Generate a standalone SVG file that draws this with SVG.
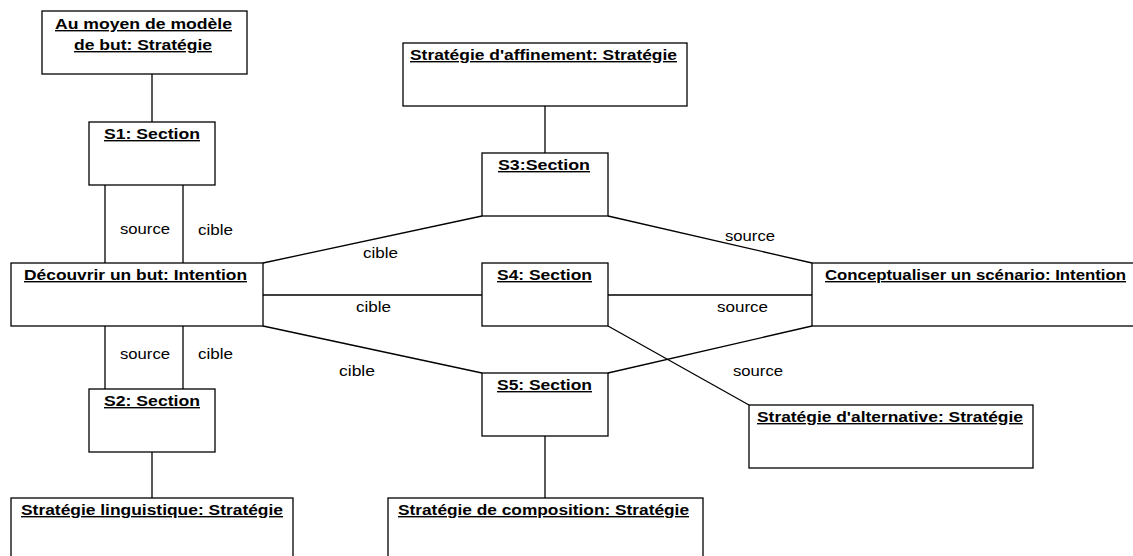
<svg xmlns="http://www.w3.org/2000/svg" width="1133" height="556" viewBox="0 0 1133 556">
<style>
.box{fill:#fff;stroke:#000;stroke-width:1.3}
.ln{stroke:#000;stroke-width:1.3;fill:none}
.t{font-family:"Liberation Sans",Arial,sans-serif;font-size:14px;font-weight:bold;text-decoration:underline;fill:#000;text-anchor:middle}
.l{font-family:"Liberation Sans",Arial,sans-serif;font-size:14px;fill:#000}
</style>
<rect width="1133" height="556" fill="#fff"/>
<g id="connectors">
<line class="ln" x1="152" y1="74" x2="152" y2="122"/>
<line class="ln" x1="105" y1="185" x2="105" y2="263"/>
<line class="ln" x1="183" y1="185" x2="183" y2="263"/>
<line class="ln" x1="105" y1="326" x2="105" y2="389"/>
<line class="ln" x1="183" y1="326" x2="183" y2="389"/>
<line class="ln" x1="152" y1="452" x2="152" y2="498"/>
<line class="ln" x1="545" y1="106" x2="545" y2="153"/>
<line class="ln" x1="545" y1="436" x2="545" y2="498"/>
<line class="ln" x1="263" y1="263" x2="482" y2="216"/>
<line class="ln" x1="608" y1="216" x2="812" y2="263"/>
<line class="ln" x1="263" y1="295" x2="482" y2="295"/>
<line class="ln" x1="608" y1="295" x2="812" y2="295"/>
<line class="ln" x1="263" y1="326" x2="482" y2="373"/>
<line class="ln" x1="608" y1="373" x2="812" y2="326"/>
<line class="ln" x1="608" y1="326" x2="749" y2="405"/>
<text class="l" x="120" y="234" textLength="50" lengthAdjust="spacingAndGlyphs">source</text>
<text class="l" x="198" y="235" textLength="35" lengthAdjust="spacingAndGlyphs">cible</text>
<text class="l" x="120" y="359" textLength="50" lengthAdjust="spacingAndGlyphs">source</text>
<text class="l" x="198" y="359" textLength="35" lengthAdjust="spacingAndGlyphs">cible</text>
<text class="l" x="363" y="258" textLength="35" lengthAdjust="spacingAndGlyphs">cible</text>
<text class="l" x="356" y="312" textLength="35" lengthAdjust="spacingAndGlyphs">cible</text>
<text class="l" x="339" y="376" textLength="36" lengthAdjust="spacingAndGlyphs">cible</text>
<text class="l" x="725" y="241" textLength="50" lengthAdjust="spacingAndGlyphs">source</text>
<text class="l" x="717" y="312" textLength="51" lengthAdjust="spacingAndGlyphs">source</text>
<text class="l" x="733" y="376" textLength="50" lengthAdjust="spacingAndGlyphs">source</text>
</g>
<g id="strat-modele">
<rect class="box" x="42" y="11" width="205" height="63"/>
<text class="t" x="143.5" y="29" textLength="177" lengthAdjust="spacingAndGlyphs">Au moyen de modèle</text>
<text class="t" x="143" y="50" textLength="138" lengthAdjust="spacingAndGlyphs">de but: Stratégie</text>
</g>
<g id="s1">
<rect class="box" x="89" y="122" width="126" height="63"/>
<text class="t" x="152" y="139" textLength="96" lengthAdjust="spacingAndGlyphs">S1: Section</text>
</g>
<g id="decouvrir">
<rect class="box" x="11" y="263" width="252" height="63"/>
<text class="t" x="135.5" y="280" textLength="223" lengthAdjust="spacingAndGlyphs">Découvrir un but: Intention</text>
</g>
<g id="s2">
<rect class="box" x="89" y="389" width="126" height="63"/>
<text class="t" x="152" y="406" textLength="96" lengthAdjust="spacingAndGlyphs">S2: Section</text>
</g>
<g id="strat-linguistique">
<rect class="box" x="11" y="498" width="282" height="70"/>
<text class="t" x="152" y="515" textLength="262" lengthAdjust="spacingAndGlyphs">Stratégie linguistique: Stratégie</text>
</g>
<g id="strat-affinement">
<rect class="box" x="403" y="43" width="284" height="63"/>
<text class="t" x="543.5" y="60" textLength="267" lengthAdjust="spacingAndGlyphs">Stratégie d'affinement: Stratégie</text>
</g>
<g id="s3">
<rect class="box" x="482" y="153" width="126" height="63"/>
<text class="t" x="544" y="170" textLength="92" lengthAdjust="spacingAndGlyphs">S3:Section</text>
</g>
<g id="s4">
<rect class="box" x="482" y="263" width="126" height="63"/>
<text class="t" x="544.5" y="280" textLength="95" lengthAdjust="spacingAndGlyphs">S4: Section</text>
</g>
<g id="s5">
<rect class="box" x="482" y="373" width="126" height="63"/>
<text class="t" x="544.5" y="390" textLength="95" lengthAdjust="spacingAndGlyphs">S5: Section</text>
</g>
<g id="strat-composition">
<rect class="box" x="388" y="498" width="315" height="70"/>
<text class="t" x="543.5" y="515" textLength="291" lengthAdjust="spacingAndGlyphs">Stratégie de composition: Stratégie</text>
</g>
<g id="conceptualiser">
<rect class="box" x="812" y="263" width="330" height="63"/>
<text class="t" x="975.5" y="280" textLength="301" lengthAdjust="spacingAndGlyphs">Conceptualiser un scénario: Intention</text>
</g>
<g id="strat-alternative">
<rect class="box" x="749" y="405" width="284" height="63"/>
<text class="t" x="890" y="422" textLength="266" lengthAdjust="spacingAndGlyphs">Stratégie d'alternative: Stratégie</text>
</g>
</svg>
